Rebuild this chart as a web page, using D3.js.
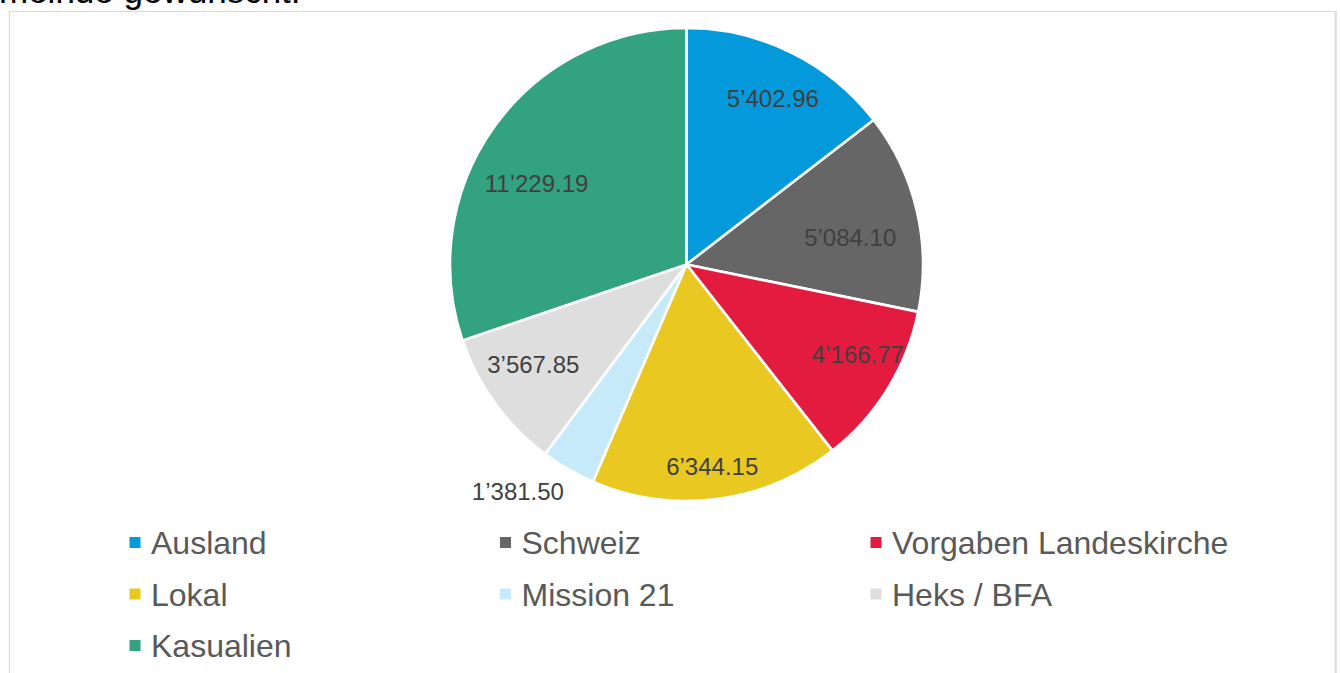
<!DOCTYPE html>
<html>
<head>
<meta charset="utf-8">
<script src="https://cdn.jsdelivr.net/npm/d3@7"></script>
<style>
  html, body { margin: 0; padding: 0; background: #fff; overflow: hidden; }
  svg { display: block; }
</style>
</head>
<body>
<svg id="chart" width="1340" height="673"></svg>
<script>
// ---- data ----
const categories = ["Ausland", "Schweiz", "Vorgaben Landeskirche", "Lokal", "Mission 21", "Heks / BFA", "Kasualien"];
const values = [5402.96, 5084.10, 4166.77, 6344.15, 1381.50, 3567.85, 11229.19];
const valueLabels = ["5’402.96", "5’084.10", "4’166.77", "6’344.15", "1’381.50", "3’567.85", "11’229.19"];
const colors = ["#0399DA", "#666666", "#E31C3F", "#E9C822", "#C7EAFB", "#DEDEDE", "#33A27F"];
const titleText = "meinde gewünscht.";

// ---- layout (not data) ----
const cx = 686.5, cy = 264.5, R = 236.5;
const insideFrac = 0.78, outsideFrac = 1.2;
const outsideLabel = [false, false, false, false, true, false, false];
const labelNudge = [[5, -0.5], [-16, 15], [14.5, -7.5], [2, 18.5], [-26.6, -19], [-4, -9], [0, 26]];

const svg = d3.select("#chart");

// clipped title from the surrounding document
svg.append("text")
  .attr("x", -1).attr("y", 3)
  .attr("font-family", "Arial, 'Liberation Sans', sans-serif")
  .attr("font-size", 35)
  .attr("fill", "#000")
  .text(titleText);

// chart border
svg.append("path")
  .attr("d", "M9.5,690 V11.5 H1335")
  .attr("fill", "none").attr("stroke", "#D9D9D9").attr("stroke-width", 1.2);
svg.append("line")
  .attr("x1", 1335.7).attr("x2", 1335.7).attr("y1", 11).attr("y2", 690)
  .attr("stroke", "#DEDEDE").attr("stroke-width", 2.2);

const data = categories.map((c, i) => ({ cat: c, value: values[i], label: valueLabels[i], color: colors[i], i }));

const pie = d3.pie().value(d => d.value).sort(null);
const arcs = pie(data);
const arc = d3.arc().innerRadius(0).outerRadius(R);

const g = svg.append("g").attr("transform", `translate(${cx},${cy})`);
g.selectAll("path.slice")
  .data(arcs)
  .join("path")
  .attr("class", "slice")
  .attr("d", arc)
  .attr("fill", d => d.data.color)
  .attr("stroke", "#fff")
  .attr("stroke-width", 2.6)
  .attr("stroke-linejoin", "round");

g.selectAll("text.lbl")
  .data(arcs)
  .join("text")
  .attr("class", "lbl")
  .attr("transform", d => {
    const f = outsideLabel[d.data.i] ? outsideFrac : insideFrac;
    const la = d3.arc().innerRadius(R * f).outerRadius(R * f);
    const [x, y] = la.centroid(d);
    const n = labelNudge[d.data.i];
    return `translate(${x + n[0]},${y + n[1]})`;
  })
  .attr("text-anchor", "middle")
  .attr("dy", "0.36em")
  .attr("font-family", "Arial, 'Liberation Sans', sans-serif")
  .attr("font-size", 24)
  .attr("fill", "#404040")
  .text(d => d.data.label);

// legend
const colX = d3.scaleOrdinal().domain([0, 1, 2]).range([129.5, 500, 870.5]);
const rowY = d3.scaleOrdinal().domain([0, 1, 2]).range([542.5, 594, 645.5]);
const leg = svg.append("g");
const items = leg.selectAll("g.item")
  .data(data)
  .join("g")
  .attr("class", "item")
  .attr("transform", d => `translate(${colX(d.i % 3)},${rowY(Math.floor(d.i / 3))})`);
items.append("rect")
  .attr("x", 0).attr("y", -5.5).attr("width", 11).attr("height", 11)
  .attr("fill", d => d.color);
items.append("text")
  .attr("x", 21.5).attr("y", 0).attr("dy", "0.36em")
  .attr("font-family", "Arial, 'Liberation Sans', sans-serif")
  .attr("font-size", 32)
  .attr("fill", "#595959")
  .text(d => d.cat);
</script>
</body>
</html>
